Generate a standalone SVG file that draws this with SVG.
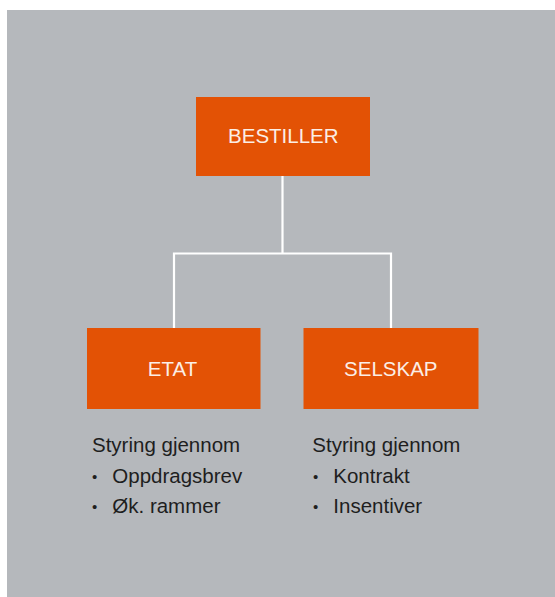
<svg xmlns="http://www.w3.org/2000/svg" width="555" height="597" viewBox="0 0 555 597">
  <style>
    .box { fill: #e35205; }
    .label { font-family: "Liberation Sans", Arial, sans-serif; font-size: 20.5px; fill: #fbeee6; text-anchor: middle; }
    .note { font-family: "Liberation Sans", Arial, sans-serif; font-size: 20.5px; fill: #1e1e1e; }
    .dot { font-size: 15px; }
    .wire { fill: none; stroke: #ffffff; stroke-width: 2.2; }
  </style>
  <rect x="0" y="0" width="555" height="597" fill="#ffffff"/>
  <rect x="7" y="10" width="548" height="587" fill="#b5b8bc"/>

  <g id="connectors">
    <path class="wire" d="M282.5 176 V253.5 M174 253.5 H391 M174 252.5 V328 M391 252.5 V328"/>
  </g>

  <g id="bestiller">
    <rect class="box" x="196" y="97" width="174" height="79"/>
    <text class="label" x="283.3" y="142.7">BESTILLER</text>
  </g>

  <g id="etat">
    <rect class="box" x="87" y="328" width="173.5" height="81"/>
    <text class="label" x="172.5" y="375.7">ETAT</text>
  </g>

  <g id="selskap">
    <rect class="box" x="303.5" y="328" width="175" height="81"/>
    <text class="label" x="390.8" y="375.7">SELSKAP</text>
  </g>

  <g id="etat-notes" class="note">
    <text x="92" y="451.7">Styring gjennom</text>
    <text class="dot" x="92" y="481.5">•</text>
    <text x="112.3" y="483.3">Oppdragsbrev</text>
    <text class="dot" x="92" y="511.5">•</text>
    <text x="112.3" y="513.3">Øk. rammer</text>
  </g>

  <g id="selskap-notes" class="note">
    <text x="312.3" y="451.7">Styring gjennom</text>
    <text class="dot" x="313" y="481.5">•</text>
    <text x="333.3" y="483.3">Kontrakt</text>
    <text class="dot" x="313" y="511.5">•</text>
    <text x="333.3" y="513.3">Insentiver</text>
  </g>
</svg>
